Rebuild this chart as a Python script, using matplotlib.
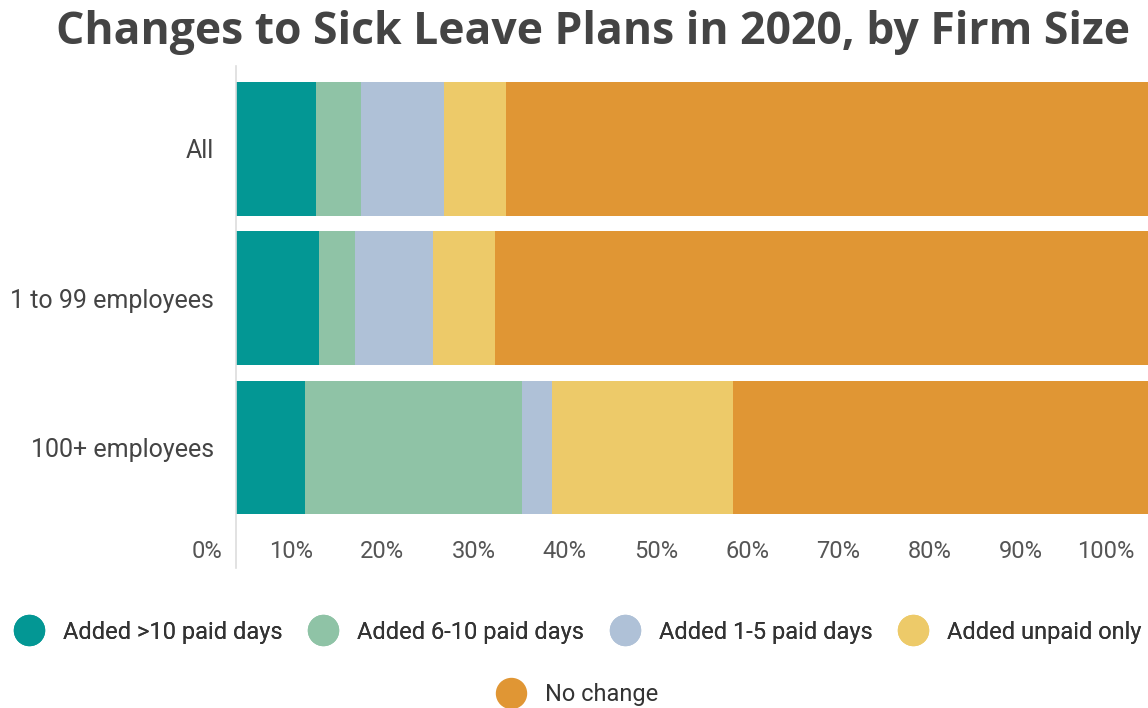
import numpy as np
import matplotlib.pyplot as plt
from matplotlib.lines import Line2D
from matplotlib.transforms import ScaledTranslation

# データ
categories = ["All", "1 to 99 employees", "100+ employees"]
series_names = ["Added >10 paid days", "Added 6-10 paid days",
                "Added 1-5 paid days", "Added unpaid only", "No change"]
added_10plus = [8.8, 9.1, 7.6]
added_6_10 = [4.9, 4.0, 23.8]
added_1_5 = [9.1, 8.5, 3.3]
added_unpaid = [6.8, 6.8, 19.8]
no_change = [70.4, 71.6, 45.5]
xtick_values = [0, 10, 20, 30, 40, 50, 60, 70, 80, 90, 100]

colors = ["#039794", "#8FC3A6", "#AFC1D7", "#EDCA69", "#E09634"]

plt.rcParams['font.family'] = ['Roboto', 'DejaVu Sans']

fig = plt.figure(figsize=(11.48, 7.08), dpi=100)
ax = fig.add_axes([236 / 1148, 1 - 568 / 708, 1 - 236 / 1148, 502 / 708])

y = np.arange(len(categories))
left = np.zeros(len(categories))
for vals, c, name in zip([added_10plus, added_6_10, added_1_5, added_unpaid, no_change],
                         colors, series_names):
    ax.barh(y, vals, left=left, height=0.896, color=c, label=name)
    left += np.array(vals)

ax.set_xlim(0, 100)
ax.set_ylim(2.806, -0.553)

# 軸の見た目
for s in ["top", "right", "bottom"]:
    ax.spines[s].set_visible(False)
ax.spines["left"].set_color("#dddddd")
ax.spines["left"].set_linewidth(1.2)

ax.set_yticks(y)
ax.set_yticklabels(categories)
ax.tick_params(axis="y", length=0, pad=16, labelsize=18, labelcolor="#444444")

ax.set_xticks(xtick_values)
ax.set_xticklabels([f"{v}%" for v in xtick_values])
ax.tick_params(axis="x", length=0, pad=-20, labelsize=17, labelcolor="#555555")
offset = ScaledTranslation(-14 / 100, 0, fig.dpi_scale_trans)
for t in ax.xaxis.get_major_ticks():
    t.label1.set_horizontalalignment("right")
    t.label1.set_transform(t.label1.get_transform() + offset)

# タイトル
fig.text(592.5 / 1148, 1 - 44 / 708, "Changes to Sick Leave Plans in 2020, by Firm Size",
         ha="center", va="baseline", fontsize=32, fontweight="bold",
         color="#444444", family=["Open Sans", "DejaVu Sans"])

# 凡例
handles = [Line2D([], [], marker="o", linestyle="", markersize=21.6,
                  markerfacecolor=c, markeredgecolor=c) for c in colors]
leg_kw = dict(loc="center", frameon=False, fontsize=17, handletextpad=0.79,
              columnspacing=1.08, labelcolor="#333333", handlelength=1.3,
              borderpad=0, borderaxespad=0)
leg1 = fig.legend(handles[:4], series_names[:4], ncol=4,
                  bbox_to_anchor=(577.5 / 1148, 1 - 632 / 708), **leg_kw)
fig.add_artist(leg1)
fig.legend(handles[4:], series_names[4:],
           bbox_to_anchor=(577 / 1148, 1 - 695 / 708), **leg_kw)

plt.savefig("out.png", dpi=100)
